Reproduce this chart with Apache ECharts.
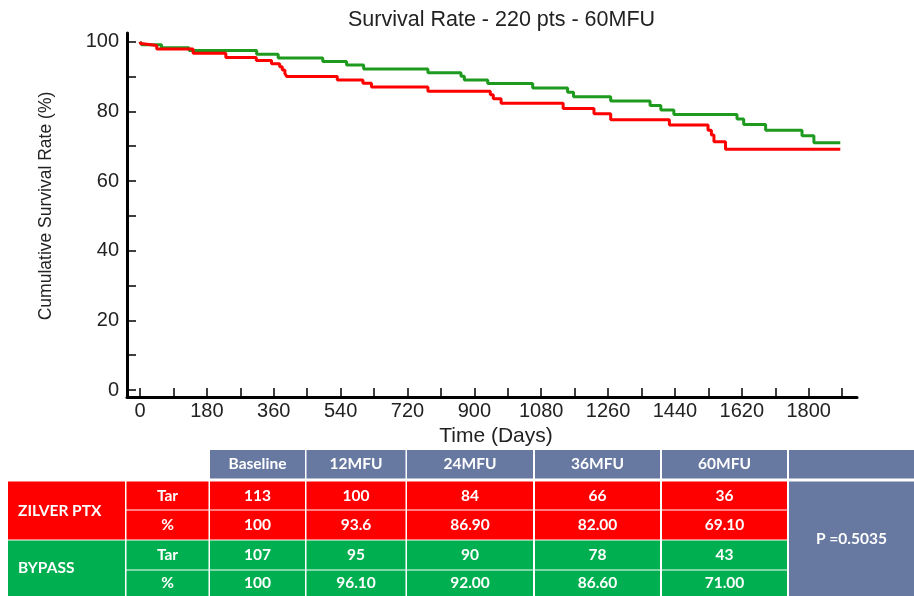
<!DOCTYPE html>
<html><head><meta charset="utf-8">
<script src="https://cdn.jsdelivr.net/npm/echarts@6/dist/echarts.min.js"></script>
<style>html,body{margin:0;padding:0;background:#fff}#c{width:914px;height:596px}</style>
</head><body><div id="c"></div>
<script>
// ---- Data ----
const titleText = 'Survival Rate - 220 pts - 60MFU';
const zilverTime = [0, 2, 8, 45, 143, 231, 313, 354, 376, 383, 390, 395, 531, 600, 623, 775, 943, 951, 972, 1139, 1222, 1267, 1425, 1529, 1538, 1545, 1576, 1885];
const zilverSurv = [100, 99.4, 98.9, 97.9, 96.7, 95.5, 94.6, 93.7, 92.8, 91.9, 90.9, 90.0, 89.0, 88.1, 87.0, 85.8, 84.8, 83.6, 82.3, 80.8, 79.3, 77.6, 76.1, 74.6, 73.2, 71.3, 69.1, 69.1];
const bypassTime = [0, 5, 58, 132, 314, 372, 492, 556, 602, 775, 864, 873, 936, 1057, 1151, 1167, 1267, 1373, 1402, 1437, 1607, 1625, 1684, 1782, 1814, 1885];
const bypassSurv = [100, 99.1, 98.3, 97.5, 96.4, 95.3, 94.3, 93.3, 92.2, 91.1, 90.1, 89.0, 88.0, 86.7, 85.5, 84.2, 83.0, 81.7, 80.4, 79.1, 77.8, 76.2, 74.6, 73.0, 71.0, 71.0];
const xTickValues = [0, 90, 180, 270, 360, 450, 540, 630, 720, 810, 900, 990, 1080, 1170, 1260, 1350, 1440, 1530, 1620, 1710, 1800, 1890];
const xLabelValues = [0, 180, 360, 540, 720, 900, 1080, 1260, 1440, 1620, 1800];
const yTickValues = [0, 10, 20, 30, 40, 50, 60, 70, 80, 90, 100];
const yLabelValues = [0, 20, 40, 60, 80, 100];

// table data
const tableHeaders = ['Baseline', '12MFU', '24MFU', '36MFU', '60MFU'];
const groupNames = ['ZILVER PTX', 'BYPASS'];
const rowKinds = ['Tar', '%', 'Tar', '%'];
const zilverTar = ['113', '100', '84', '66', '36'];
const zilverPct = ['100', '93.6', '86.90', '82.00', '69.10'];
const bypassTar = ['107', '95', '90', '78', '43'];
const bypassPct = ['100', '96.10', '92.00', '86.60', '71.00'];
const pValueText = 'P =0.5035';

// ---- Layout / style (table grid units) ----
const colEdges = [[8,125],[126.5,208.5],[210,305],[306.5,405.5],[407,533],[535,660],[662,787],[789,914]];
const rowEdges = [[0,28.5],[31.5,59.5],[60.5,89.5],[90.5,119.5],[120.5,146]];
const RED = '#ff0000', GREEN = '#00b050', HEAD = '#6779a1';

const cells = [];
function addCell(c0, c1, r0, r1, text, fill, align) {
  cells.push({x0: colEdges[c0][0], x1: colEdges[c1][1], y0: rowEdges[r0][0], y1: rowEdges[r1][1], text, fill, align: align || 'center'});
}
tableHeaders.forEach((h, i) => addCell(i + 2, i + 2, 0, 0, h, HEAD));
addCell(7, 7, 0, 0, '', HEAD);
addCell(0, 0, 1, 2, groupNames[0], RED, 'left');
addCell(0, 0, 3, 4, groupNames[1], GREEN, 'left');
rowKinds.forEach((k, i) => addCell(1, 1, i + 1, i + 1, k, i < 2 ? RED : GREEN));
[zilverTar, zilverPct, bypassTar, bypassPct].forEach((arr, r) => {
  arr.forEach((v, i) => addCell(i + 2, i + 2, r + 1, r + 1, v, r < 2 ? RED : GREEN));
});
addCell(7, 7, 1, 4, pValueText, HEAD);

const chart = echarts.init(document.getElementById('c'));
const FONT = 'Liberation Sans, Arial, sans-serif';
chart.setOption({
  backgroundColor: '#fff',
  animation: false,
  title: {
    text: titleText, left: 343, top: 4,
    textStyle: {fontFamily: FONT, fontSize: 21.5, fontWeight: 'normal', color: '#222'}
  },
  grid: [
    {left: 127, right: 57, top: 33, bottom: 199},
    {left: 0, right: 0, top: 450, bottom: 0}
  ],
  xAxis: [
    {
      type: 'value', gridIndex: 0, min: -35, max: 1930,
      name: 'Time (Days)', nameLocation: 'middle', nameGap: 28,
      nameTextStyle: {fontFamily: FONT, fontSize: 21, color: '#222', padding: [0, 0, 0, 8]},
      axisLine: {show: true, onZero: false, lineStyle: {color: '#000', width: 3}},
      axisTick: {show: true, inside: true, length: 9, customValues: xTickValues, lineStyle: {color: '#000', width: 1.5}},
      axisLabel: {customValues: xLabelValues, formatter: v => String(v), fontFamily: FONT, fontSize: 20, color: '#222', margin: 4},
      splitLine: {show: false}
    },
    {type: 'value', gridIndex: 1, min: 0, max: 914, show: false}
  ],
  yAxis: [
    {
      type: 'value', gridIndex: 0, min: -2, max: 102.5,
      name: 'Cumulative Survival Rate (%)', nameLocation: 'middle', nameGap: 72,
      nameTextStyle: {fontFamily: FONT, fontSize: 17.5, color: '#222', padding: [0, 0, 0, 18]},
      axisLine: {show: true, onZero: false, lineStyle: {color: '#000', width: 3}},
      axisTick: {show: true, inside: true, length: 9, customValues: yTickValues, lineStyle: {color: '#000', width: 1.5}},
      axisLabel: {customValues: yLabelValues, formatter: v => String(v), fontFamily: FONT, fontSize: 20, color: '#222', margin: 8},
      splitLine: {show: false}
    },
    {type: 'value', gridIndex: 1, min: 0, max: 146, inverse: true, show: false}
  ],
  series: [
    {
      type: 'line', name: 'BYPASS', xAxisIndex: 0, yAxisIndex: 0, step: 'end', symbol: 'none',
      lineStyle: {color: '#1e9b1e', width: 3}, z: 2,
      data: bypassTime.map((t, i) => [t, bypassSurv[i]])
    },
    {
      type: 'line', name: 'ZILVER PTX', xAxisIndex: 0, yAxisIndex: 0, step: 'end', symbol: 'none',
      lineStyle: {color: '#ff0000', width: 3}, z: 3,
      data: zilverTime.map((t, i) => [t, zilverSurv[i]])
    },
    {
      type: 'custom', xAxisIndex: 1, yAxisIndex: 1, silent: true,
      data: cells.map(c => [c.x0, c.y0, c.x1, c.y1]),
      encode: {x: [0, 2], y: [1, 3]},
      renderItem: function (params, api) {
        const c = cells[params.dataIndex];
        const p0 = api.coord([c.x0, c.y0]);
        const p1 = api.coord([c.x1, c.y1]);
        const w = p1[0] - p0[0], h = p1[1] - p0[1];
        return {
          type: 'group',
          children: [
            {type: 'rect', shape: {x: p0[0], y: p0[1], width: w, height: h}, style: {fill: c.fill}},
            {type: 'text', style: {
              text: c.text,
              x: c.align === 'left' ? p0[0] + 10 : p0[0] + w / 2,
              y: p0[1] + h / 2,
              align: c.align, verticalAlign: 'middle',
              fill: '#fff', font: 'bold 15.5px Lato, "Open Sans", sans-serif'
            }}
          ]
        };
      }
    }
  ]
});
</script>
</body></html>
